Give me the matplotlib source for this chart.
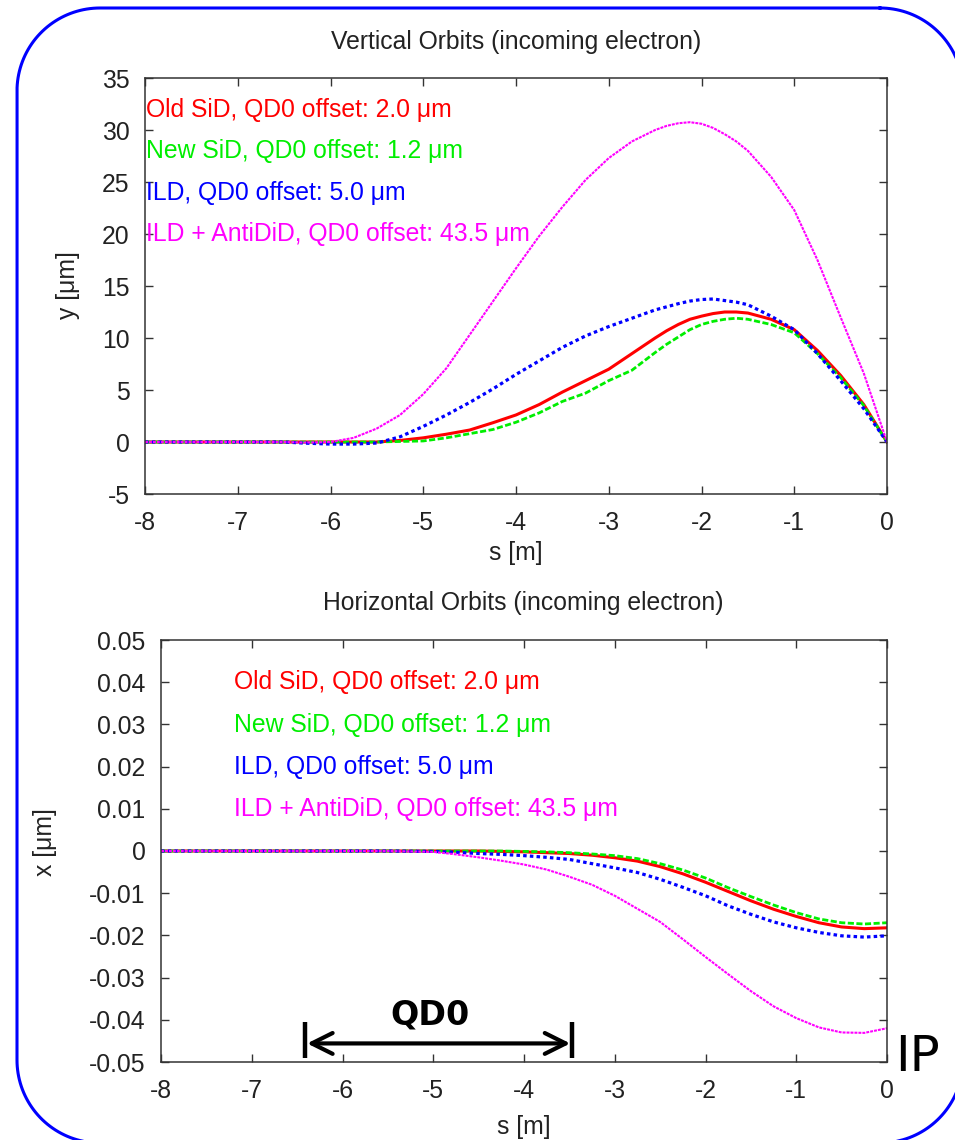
import matplotlib
matplotlib.use("Agg")
import numpy as np
import matplotlib.pyplot as plt
from matplotlib.ticker import FuncFormatter, MultipleLocator

plt.rcParams["font.family"] = ["Liberation Sans", "DejaVu Sans"]
plt.rcParams["axes.unicode_minus"] = False

W, H = 955, 1140

# ---- vertical orbit y [um] along s [m] ----
s_vert = [-8.0, -6.5, -6.3, -6.0, -5.75, -5.5, -5.25, -5.0, -4.75, -4.5, -4.25,
          -4.0, -3.75, -3.5, -3.25, -3.0, -2.75, -2.5, -2.375, -2.25, -2.125, -2.0,
          -1.875, -1.75, -1.625, -1.5, -1.25, -1.0, -0.75, -0.5, -0.25, 0.0]
y_old_sid = [0.0, 0.0, 0.0, 0.0, 0.0, 0.0, 0.15, 0.4, 0.75, 1.15, 1.85,
             2.6, 3.6, 4.8, 5.9, 7.0, 8.5, 10.0, 10.7, 11.3, 11.8, 12.1,
             12.35, 12.5, 12.5, 12.4, 11.8, 10.8, 8.8, 6.4, 3.6, 0.0]
y_new_sid = [0.0, 0.0, 0.0, 0.0, 0.0, 0.0, 0.05, 0.1, 0.4, 0.8, 1.2,
             1.9, 2.8, 3.9, 4.7, 5.9, 6.9, 8.6, 9.4, 10.1, 10.8, 11.3,
             11.6, 11.8, 11.9, 11.8, 11.3, 10.5, 8.5, 6.2, 3.5, 0.0]
y_ild = [0.0, 0.0, -0.1, -0.2, -0.2, -0.1, 0.5, 1.5, 2.6, 3.8, 5.1,
         6.5, 7.8, 9.1, 10.2, 11.1, 11.9, 12.7, 13.0, 13.3, 13.55, 13.7,
         13.75, 13.6, 13.45, 13.2, 12.1, 10.8, 8.5, 5.9, 3.2, 0.0]
y_ild_antidid = [0.0, 0.0, -0.05, 0.0, 0.4, 1.3, 2.6, 4.6, 7.1, 10.3, 13.5,
                 16.7, 19.8, 22.6, 25.2, 27.3, 28.9, 30.0, 30.4, 30.65, 30.75, 30.6,
                 30.2, 29.6, 28.9, 28.0, 25.5, 22.3, 17.5, 12.0, 6.6, 0.0]

# ---- horizontal orbit x [um] along s [m] ----
s_horiz = [-8.0, -5.5, -5.0, -4.75, -4.5, -4.25, -4.0, -3.75, -3.5, -3.25,
           -3.0, -2.75, -2.5, -2.25, -2.0, -1.75, -1.5, -1.25, -1.0, -0.75,
           -0.5, -0.25, 0.0]
x_old_sid = [0.0, 0.0, 0.0, 0.0, 0.0, -0.0001, -0.0002, -0.0004, -0.0006, -0.0010,
             -0.0016, -0.0024, -0.0037, -0.0054, -0.0074, -0.0096, -0.0118, -0.0138,
             -0.0155, -0.0170, -0.0180, -0.0184, -0.0182]
x_new_sid = [0.0, 0.0, 0.0, 0.0, 0.0, 0.0, -0.0001, -0.0002, -0.0004, -0.0007,
             -0.0011, -0.0018, -0.0030, -0.0045, -0.0064, -0.0087, -0.0108, -0.0128,
             -0.0146, -0.0161, -0.0170, -0.0173, -0.0170]
x_ild = [0.0, 0.0, -0.0001, -0.0003, -0.0006, -0.0008, -0.0011, -0.0015, -0.0020, -0.0030,
         -0.0040, -0.0051, -0.0067, -0.0086, -0.0106, -0.0130, -0.0150, -0.0168,
         -0.0182, -0.0193, -0.0201, -0.0204, -0.0201]
x_ild_antidid = [0.0, 0.0, -0.0002, -0.0008, -0.0015, -0.0023, -0.0032, -0.0044, -0.0061, -0.0080,
                 -0.0106, -0.0137, -0.0168, -0.0209, -0.0251, -0.0292, -0.0332, -0.0368,
                 -0.0396, -0.0418, -0.0430, -0.0431, -0.0420]

labels = ["Old SiD, QD0 offset: 2.0 \u03bcm",
          "New SiD, QD0 offset: 1.2 \u03bcm",
          "ILD, QD0 offset: 5.0 \u03bcm",
          "ILD + AntiDiD, QD0 offset: 43.5 \u03bcm"]
colors = ["#ff0000", "#00ee00", "#0000ff", "#ff00ff"]
widths = [2.2, 2.0, 2.3, 1.5]
styles = ["-", (0, (2.2, 0.9)), (0, (1.1, 1.0)), (0, (1.4, 0.5))]

qd0_start, qd0_end = -6.41, -3.47

FS = 17.8
INK = "#222222"


def fx(px):
    return px / W


def fy(py):
    return 1 - py / H


def tick_text(v, pos):
    v = round(v, 3)
    return "0" if v == 0 else f"{v:g}"


fig = plt.figure(figsize=(W / 100, H / 100), dpi=100)


def style_axes(ax):
    for sp in ax.spines.values():
        sp.set_linewidth(1.1)
        sp.set_color("#333333")
    ax.tick_params(direction="in", length=6, width=1.0, color="#333333",
                   top=True, right=True, labelsize=FS, labelcolor=INK)
    ax.tick_params(axis="x", pad=12)
    ax.tick_params(axis="y", pad=11)
    ax.set_xlim(-8, 0)
    ax.xaxis.set_major_locator(MultipleLocator(1))
    ax.xaxis.set_major_formatter(FuncFormatter(tick_text))
    ax.yaxis.set_major_formatter(FuncFormatter(tick_text))


# top panel: vertical orbits
ax1 = fig.add_axes([fx(145), fy(494), (887 - 145) / W, (494 - 78) / H])
style_axes(ax1)
ax1.set_ylim(-5, 35)
ax1.yaxis.set_major_locator(MultipleLocator(5))
for ys, c, lw, ls in zip([y_old_sid, y_new_sid, y_ild, y_ild_antidid], colors, widths, styles):
    ax1.plot(s_vert, ys, color=c, lw=lw, linestyle=ls)
for i, (lab, c) in enumerate(zip(labels, colors)):
    ax1.text(-7.99, 31.25 - 3.98 * i, lab, color=c, fontsize=FS, va="baseline", ha="left")

# bottom panel: horizontal orbits
ax2 = fig.add_axes([fx(161), fy(1062), (887 - 161) / W, (1062 - 640) / H])
style_axes(ax2)
ax2.set_ylim(-0.05, 0.05)
ax2.yaxis.set_major_locator(MultipleLocator(0.01))
for xs, c, lw, ls in zip([x_old_sid, x_new_sid, x_ild, x_ild_antidid], colors, widths, styles):
    ax2.plot(s_horiz, xs, color=c, lw=lw, linestyle=ls)
for i, (lab, c) in enumerate(zip(labels, colors)):
    ax2.text(-7.196, 0.0383 - 0.01 * i, lab, color=c, fontsize=FS, va="baseline", ha="left")

# QD0 extent marker
for sq in (qd0_start, qd0_end):
    ax2.plot([sq, sq], [-0.0405, -0.0491], color="black", lw=3.2, solid_capstyle="butt")
ax2.annotate("", xy=(qd0_end - 0.02, -0.0456), xytext=(qd0_start + 0.02, -0.0456),
             arrowprops=dict(arrowstyle="<->,head_length=1.5,head_width=0.75",
                             lw=3, color="black", shrinkA=0, shrinkB=0,
                             mutation_scale=10))
ax2.text((qd0_start + qd0_end) / 2 - 0.1, -0.0389, "QD0", fontsize=24, fontweight="bold",
         family="DejaVu Sans", ha="center", va="center", color="black")

# titles and axis labels
fig.text(fx(516), fy(42), "Vertical Orbits (incoming electron)", fontsize=FS,
         ha="center", va="center", color=INK)
fig.text(fx(523), fy(603), "Horizontal Orbits (incoming electron)", fontsize=FS,
         ha="center", va="center", color=INK)
fig.text(fx(516), fy(553), "s [m]", fontsize=FS, ha="center", va="center", color=INK)
fig.text(fx(524), fy(1127), "s [m]", fontsize=FS, ha="center", va="center", color=INK)
fig.text(fx(68), fy(285), "y [\u03bcm]", fontsize=FS, ha="center", va="center",
         rotation=90, color=INK)
fig.text(fx(45), fy(842), "x [\u03bcm]", fontsize=FS, ha="center", va="center",
         rotation=90, color=INK)
fig.text(fx(917), fy(1057), "IP", fontsize=36, family="DejaVu Sans",
         ha="center", va="center", color="black")

# rounded frame around the slide content, traced in pixel units (y downward)
bg = fig.add_axes([0, 0, 1, 1], zorder=-1)
bg.set_xlim(0, W)
bg.set_ylim(H, 0)
bg.axis("off")
left, top, right, bottom, rad = 17, 8, 963, 1143, 83
corners = [(right - rad, top + rad, -90, 0), (right - rad, bottom - rad, 0, 90),
           (left + rad, bottom - rad, 90, 180), (left + rad, top + rad, 180, 270)]
fx_pts, fy_pts = [], []
for cx, cy, a0, a1 in corners:
    ang = np.radians(np.linspace(a0, a1, 40))
    fx_pts.extend(cx + rad * np.cos(ang))
    fy_pts.extend(cy + rad * np.sin(ang))
fx_pts.append(fx_pts[0])
fy_pts.append(fy_pts[0])
bg.plot(fx_pts, fy_pts, color="#0000ff", lw=2.2, solid_joinstyle="round")

fig.savefig("out.png", dpi=100)
